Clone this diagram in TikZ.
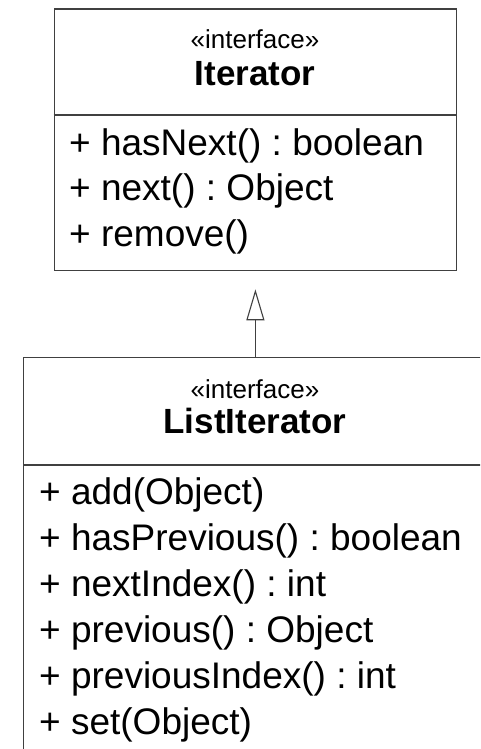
\documentclass[tikz,border=0pt]{standalone}
\usepackage{fontspec}
\setmainfont{Liberation Sans}
\usetikzlibrary{arrows.meta}
\frenchspacing
\tikzset{
  umlbox/.style={draw=black!75, line width=1.3pt, fill=white, inner sep=0pt, anchor=north west},
  divider/.style={draw=black!75, line width=1.3pt},
  stereo/.style={anchor=base, inner sep=0pt, font=\fontsize{26}{26}\selectfont},
  clsname/.style={anchor=base, inner sep=0pt, font=\fontsize{35}{35}\selectfont\bfseries},
  member/.style={anchor=base west, inner sep=0pt, font=\frenchspacing\fontsize{37}{37}\selectfont},
  realize/.style={draw=black!75, line width=1.1pt, -{Triangle[open, length=31pt, width=18pt, line width=1.1pt]}, shorten >=18pt}
}
\begin{document}
\begin{tikzpicture}[x=1pt, y=-1pt]
\useasboundingbox (0,0) rectangle (480,749);
\clip (0,0) rectangle (480,749);
% Iterator
\node[umlbox, minimum width=402.5pt, minimum height=261.5pt] (itr) at (53.5,8.5) {};
\coordinate (itrdl) at (53.5,115);
\coordinate (itrdr) at (456,115);
\draw[divider] (itrdl) -- (itrdr);
\node[stereo] (itrst) at (255,49) {«interface»};
\node[clsname] (itrnm) at (255,86) {Iterator};
\node[member] (m1) at (69,155) {+ hasNext() : boolean};
\node[member] (m2) at (69,200.5) {+ next() : Object};
\node[member] (m3) at (69,246) {+ remove()};
% ListIterator
\node[umlbox, minimum width=470pt, minimum height=420pt] (lit) at (23,357) {};
\coordinate (litdl) at (23,465);
\coordinate (litdr) at (493,465);
\draw[divider] (litdl) -- (litdr);
\node[stereo] (litst) at (255,398) {«interface»};
\node[clsname] (litnm) at (255,433) {ListIterator};
\node[member] (l1) at (39,504) {+ add(Object)};
\node[member] (l2) at (39,550) {+ hasPrevious() : boolean};
\node[member] (l3) at (39,596) {+ nextIndex() : int};
\node[member] (l4) at (39,642) {+ previous() : Object};
\node[member] (l5) at (39,688) {+ previousIndex() : int};
\node[member] (l6) at (39,734) {+ set(Object)};
% generalization
\coordinate (gfrom) at (lit.north -| itr.south);
\draw[realize] (gfrom) -- (itr.south);
\end{tikzpicture}
\end{document}
